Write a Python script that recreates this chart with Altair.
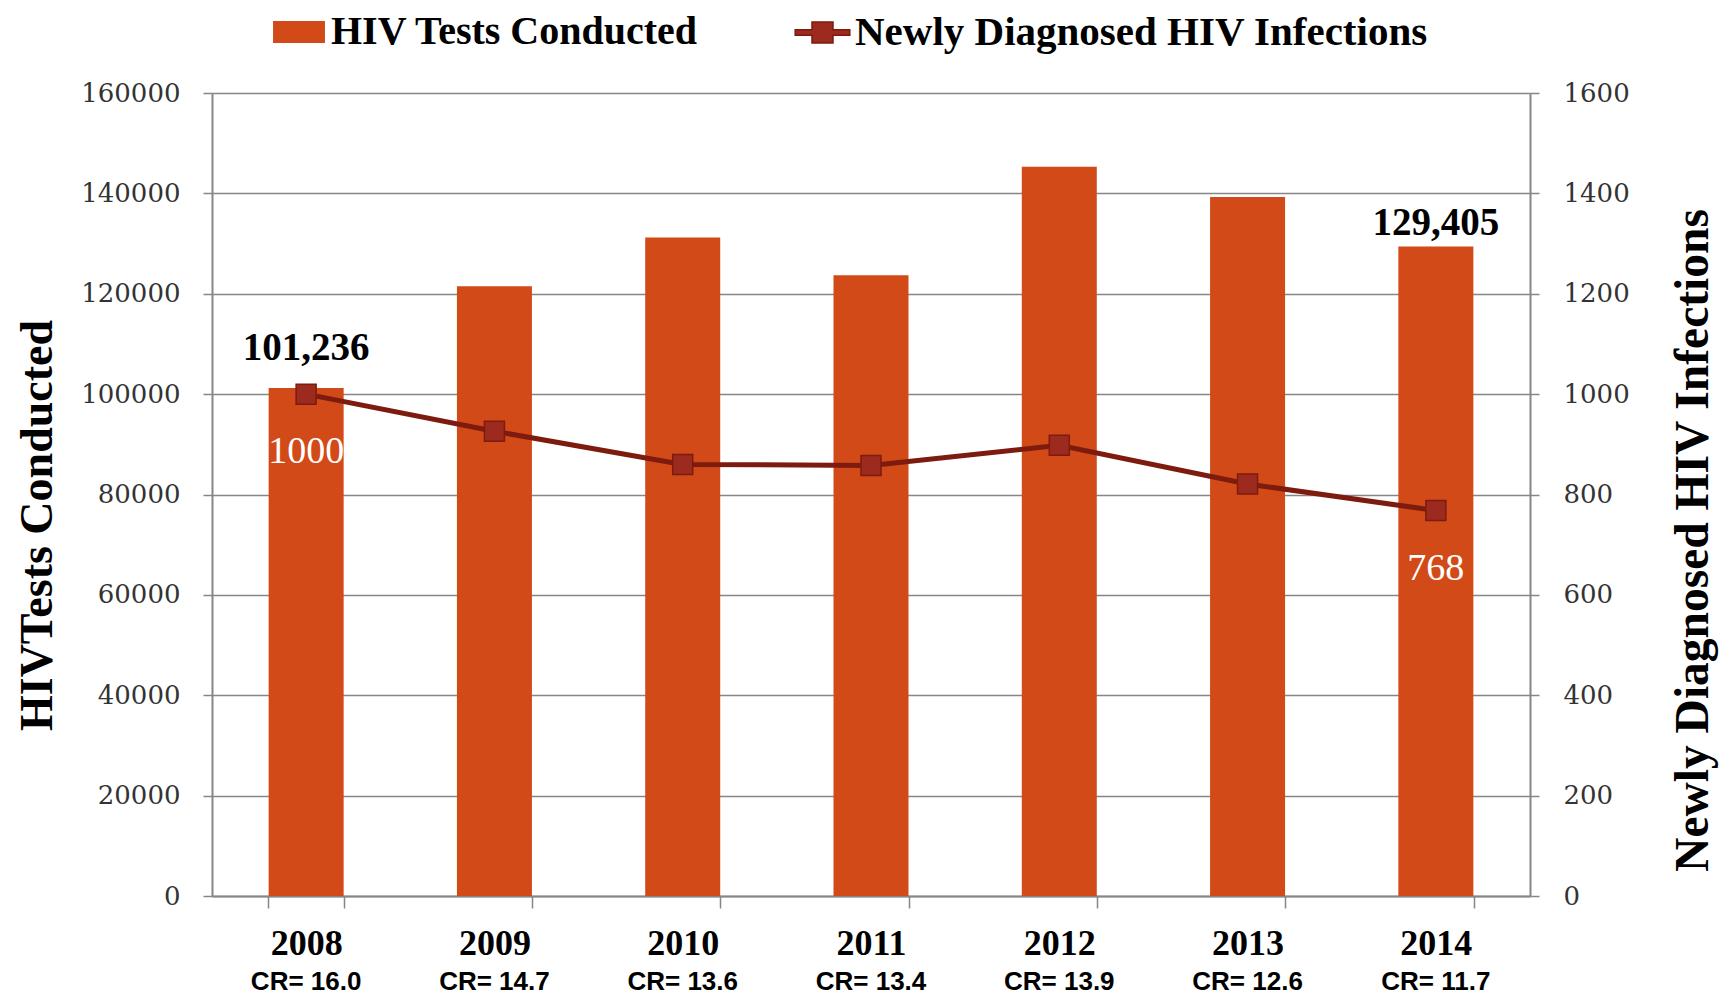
import altair as alt
import pandas as pd

# ---- data ----
years = ["2008", "2009", "2010", "2011", "2012", "2013", "2014"]
tests = [101236, 121500, 131200, 123700, 145300, 139300, 129405]
diagnosed = [1000, 926, 860, 858, 898, 821, 768]
cr_labels = ["CR= 16.0", "CR= 14.7", "CR= 13.6", "CR= 13.4", "CR= 13.9", "CR= 12.6", "CR= 11.7"]
left_ticks = [0, 20000, 40000, 60000, 80000, 100000, 120000, 140000, 160000]
right_ticks = [0, 200, 400, 600, 800, 1000, 1200, 1400, 1600]
bar_name = "HIV Tests Conducted"
line_name = "Newly Diagnosed HIV Infections"

ORANGE = "#D24A18"
DARK = "#7D1B0F"
MARKER = "#9C2A1E"
GRAY = "#868686"
W, H = 1318, 803

df = pd.DataFrame({
    "year": years,
    "tests": tests,
    "diagnosed": diagnosed,
    "cr": cr_labels,
    "bar_series": [bar_name] * len(years),
    "line_series": [line_name] * len(years),
})
first = df.iloc[[0]]
last = df.iloc[[-1]]

x = alt.X(
    "year:N", sort=years,
    scale=alt.Scale(paddingInner=0.6, paddingOuter=0.3),
    axis=alt.Axis(
        title=None, labelFont="Liberation Serif", labelFontWeight="bold",
        labelFontSize=36, labelColor="#000000", labelAngle=0, labelPadding=35,
        labelBaseline="middle", tickBand="extent", ticks=True, tickSize=12,
        tickColor=GRAY, tickWidth=1.5, domainColor=GRAY, domainWidth=2, grid=False,
    ),
)

yl = alt.Y(
    "tests:Q",
    scale=alt.Scale(domain=[0, 160000], nice=False),
    axis=alt.Axis(
        values=left_ticks, format="d", title="HIVTests Conducted",
        titleFont="Liberation Serif", titleFontSize=46, titleFontWeight="bold",
        titleColor="#000000", titleAngle=-90, titleX=-161, titleY=432,
        titleBaseline="alphabetic", titleAlign="center",
        labelFont="DejaVu Serif", labelFontSize=26, labelColor="#333333",
        labelPadding=23, tickSize=9, tickColor=GRAY, tickWidth=1.5,
        domainColor=GRAY, domainWidth=2, grid=True, gridColor=GRAY, gridWidth=1.5,
    ),
)

yr = alt.Y(
    "diagnosed:Q",
    scale=alt.Scale(domain=[0, 1600], nice=False),
    axis=alt.Axis(
        orient="right", values=right_ticks, format="d",
        title="Newly Diagnosed HIV Infections",
        titleFont="Liberation Serif", titleFontSize=47.5, titleFontWeight="bold",
        titleColor="#000000", titleAngle=-90, titleX=177, titleY=447,
        titleBaseline="alphabetic", titleAlign="center",
        labelFont="DejaVu Serif", labelFontSize=26, labelColor="#333333",
        labelPadding=24, tickSize=9, tickColor=GRAY, tickWidth=1.5,
        domainColor=GRAY, domainWidth=2, grid=False,
    ),
)

bars = alt.Chart(df).mark_bar(size=75).encode(
    x=x, y=yl,
    color=alt.Color(
        "bar_series:N",
        scale=alt.Scale(domain=[bar_name], range=[ORANGE]),
        legend=alt.Legend(
            title=None, orient="none", legendX=67, legendY=-81, padding=0,
            symbolType="M-2.36,-1H2.36V1H-2.36Z", symbolSize=484,
            symbolStrokeWidth=0, labelFont="Liberation Serif", labelFontWeight="bold",
            labelFontSize=40, labelColor="#000000", labelOffset=12, labelLimit=900,
        ),
    ),
)

lab_first = alt.Chart(first).mark_text(
    font="Liberation Serif", fontWeight="bold", fontSize=39, color="#000000",
    baseline="middle", dy=-40,
).encode(x=x, y=yl, text=alt.Text("tests:Q", format=","))

lab_last = alt.Chart(last).mark_text(
    font="Liberation Serif", fontWeight="bold", fontSize=39, color="#000000",
    baseline="middle", dy=-24,
).encode(x=x, y=yl, text=alt.Text("tests:Q", format=","))

cr_text = alt.Chart(df).mark_text(
    font="Liberation Sans", fontWeight="bold", fontSize=26, color="#000000",
    baseline="alphabetic",
).encode(x=x, y=alt.value(H + 94), text="cr:N")

left = alt.layer(bars, lab_first, lab_last, cr_text)

line = alt.Chart(df).mark_line(color=DARK, strokeWidth=5).encode(x=x, y=yr)

points = alt.Chart(df).mark_point(
    shape="square", filled=True, size=400, opacity=1, stroke=DARK, strokeWidth=1.5,
).encode(
    x=x, y=yr,
    color=alt.Color(
        "line_series:N",
        scale=alt.Scale(domain=[line_name], range=[MARKER]),
        legend=alt.Legend(
            title=None, orient="none", legendX=590, legendY=-81, padding=0,
            symbolType="M-2.6,-0.26H-1V-1H1V-0.26H2.6V0.26H1V1H-1V0.26H-2.6Z",
            symbolSize=441, symbolStrokeColor=DARK, symbolStrokeWidth=1.5,
            labelFont="Liberation Serif", labelFontWeight="bold",
            labelFontSize=41, labelColor="#000000", labelOffset=12, labelLimit=900,
        ),
    ),
)

white_lab = alt.Chart(pd.concat([first, last])).mark_text(
    font="Liberation Serif", fontSize=38, color="#FFFFFF", baseline="middle", dy=58,
).encode(x=x, y=yr, text=alt.Text("diagnosed:Q", format="d"))

right = alt.layer(line, points, white_lab)

chart = alt.layer(left, right).resolve_scale(
    y="independent", color="independent"
).properties(
    width=W, height=H,
    autosize=alt.AutoSizeParams(type="none"),
    padding={"left": 204, "top": 85, "right": 194, "bottom": 101},
).configure_view(stroke=None)

chart.save("out.html", embed_options={"renderer": "svg", "actions": False})
